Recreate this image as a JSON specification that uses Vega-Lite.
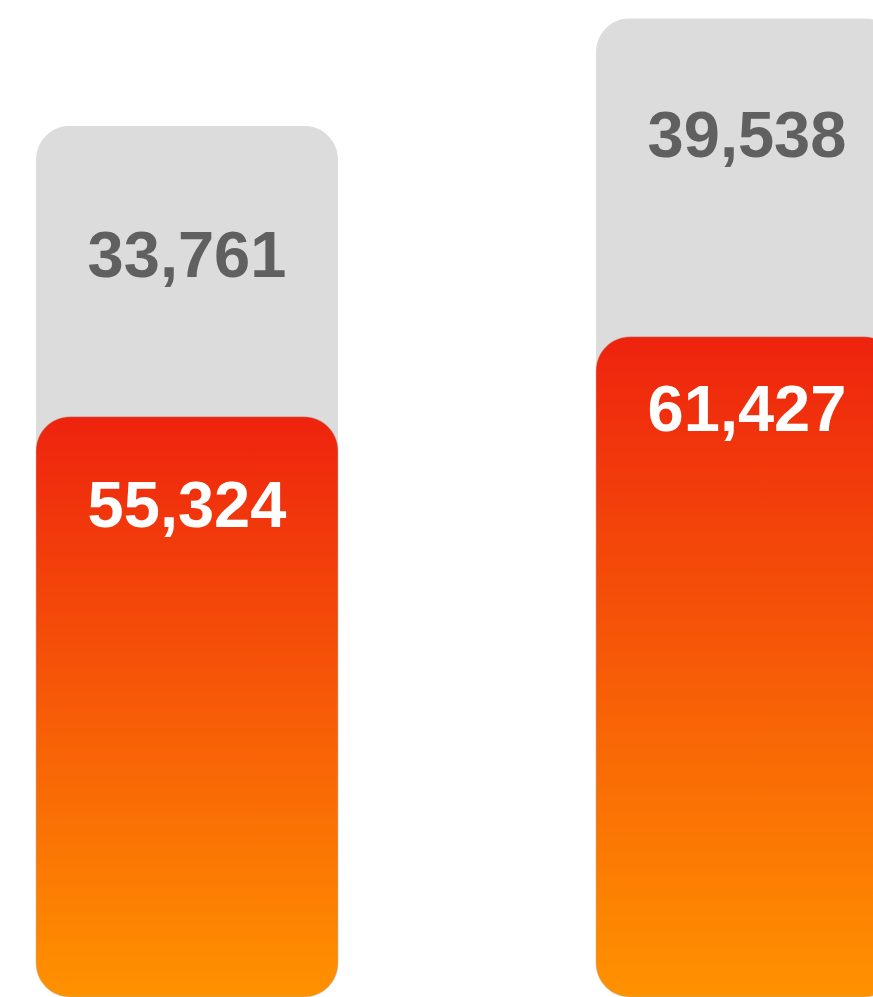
{
  "$schema": "https://vega.github.io/schema/vega-lite/v6.json",
  "width": 873,
  "height": 997,
  "autosize": {"type": "none"},
  "padding": 0,
  "background": "#ffffff",
  "config": {"view": {"stroke": null}},
  "data": {
    "values": [
      {"group": "A", "value": 55324, "other": 33761, "total": 89085},
      {"group": "B", "value": 61427, "other": 39538, "total": 100965}
    ]
  },
  "encoding": {
    "x": {
      "field": "group",
      "type": "nominal",
      "axis": null,
      "scale": {"range": [0, 934], "paddingInner": 0.4607, "paddingOuter": 0.0643}
    }
  },
  "layer": [
    {
      "mark": {"type": "bar", "color": "#DCDCDC", "cornerRadius": 34},
      "encoding": {
        "y": {"field": "total", "type": "quantitative", "axis": null,
              "scale": {"domain": [-7290, 102993], "zero": false, "nice": false}}
      }
    },
    {
      "mark": {"type": "text", "font": "Liberation Sans", "fontWeight": "bold", "fontSize": 65,
               "color": "#606060", "baseline": "alphabetic", "align": "center"},
      "encoding": {
        "y": {"field": "other", "type": "quantitative", "axis": null,
              "scale": {"domain": [-915, 47083], "zero": false, "nice": false}},
        "text": {"field": "other", "type": "quantitative", "format": ",d"}
      }
    },
    {
      "mark": {
        "type": "bar",
        "cornerRadius": 34,
        "stroke": "#b8b8b8",
        "strokeWidth": 1,
        "strokeOpacity": 0.5,
        "color": {
          "gradient": "linear",
          "x1": 0, "y1": 0, "x2": 0, "y2": 1,
          "stops": [
            {"offset": 0, "color": "#EE230E"},
            {"offset": 1, "color": "#FF9200"}
          ]
        }
      },
      "encoding": {
        "y": {"field": "value", "type": "quantitative", "axis": null,
              "scale": {"domain": [11054, 87115], "zero": false, "nice": false}},
        "y2": {"datum": 11054}
      }
    },
    {
      "mark": {"type": "text", "font": "Liberation Sans", "fontWeight": "bold", "fontSize": 65,
               "color": "#ffffff", "baseline": "alphabetic", "align": "center"},
      "encoding": {
        "y": {"field": "value", "type": "quantitative", "axis": null,
              "scale": {"domain": [25330, 88910], "zero": false, "nice": false}},
        "text": {"field": "value", "type": "quantitative", "format": ",d"}
      }
    }
  ],
  "resolve": {"scale": {"y": "independent"}}
}
